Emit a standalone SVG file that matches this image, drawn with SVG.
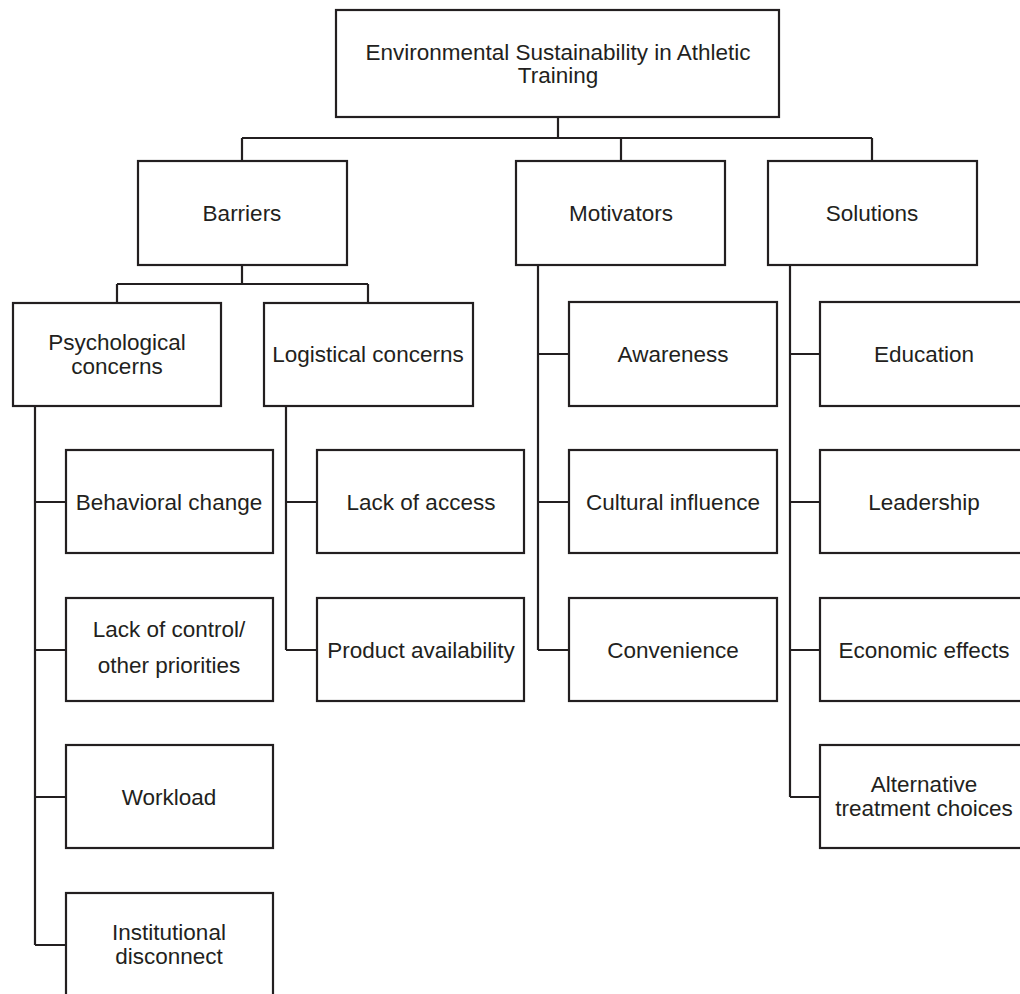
<svg xmlns="http://www.w3.org/2000/svg" width="1020" height="994" viewBox="0 0 1020 994">
<style>
rect{fill:#fff;stroke:#231f20;stroke-width:2.2}
text{font-family:"Liberation Sans",Arial,sans-serif;font-size:22.5px;fill:#231f20;text-anchor:middle}
#connectors path{fill:none;stroke:#231f20;stroke-width:2.2}
</style>
<rect x="0" y="0" width="1020" height="994" style="stroke:none"/>
<g id="connectors">
<path d="M558 117V138M242 138H872M242 138V161M621 138V161M872 138V161"/>
<path d="M242 265V284M117 284H368M117 284V303M368 284V303"/>
<path d="M35 406V945M35 502H66M35 650H66M35 797H66M35 945H66"/>
<path d="M286 406V650M286 502H317M286 650H317"/>
<path d="M538 265V650M538 354H569M538 502H569M538 650H569"/>
<path d="M790 265V797M790 354H820M790 502H820M790 650H820M790 797H820"/>
</g>
<g id="root"><rect x="336" y="10" width="443" height="107"/><text x="558" y="60">Environmental Sustainability in Athletic</text><text x="558" y="83">Training</text></g>
<g id="barriers"><rect x="138" y="161" width="209" height="104"/><text x="242" y="221">Barriers</text></g>
<g id="motivators"><rect x="516" y="161" width="209" height="104"/><text x="621" y="221">Motivators</text></g>
<g id="solutions"><rect x="768" y="161" width="209" height="104"/><text x="872" y="221">Solutions</text></g>
<g id="psychological"><rect x="13" y="303" width="208" height="103"/><text x="117" y="350">Psychological</text><text x="117" y="374">concerns</text></g>
<g id="logistical"><rect x="264" y="303" width="209" height="103"/><text x="368" y="362">Logistical concerns</text></g>
<g id="behavioral"><rect x="66" y="450" width="207" height="103"/><text x="169" y="510">Behavioral change</text></g>
<g id="lackcontrol"><rect x="66" y="598" width="207" height="103"/><text x="169" y="637">Lack of control/</text><text x="169" y="673">other priorities</text></g>
<g id="workload"><rect x="66" y="745" width="207" height="103"/><text x="169" y="805">Workload</text></g>
<g id="institutional"><rect x="66" y="893" width="207" height="110"/><text x="169" y="940">Institutional</text><text x="169" y="964">disconnect</text></g>
<g id="lackaccess"><rect x="317" y="450" width="207" height="103"/><text x="421" y="510">Lack of access</text></g>
<g id="product"><rect x="317" y="598" width="207" height="103"/><text x="421" y="658">Product availability</text></g>
<g id="awareness"><rect x="569" y="302" width="208" height="104"/><text x="673" y="362">Awareness</text></g>
<g id="cultural"><rect x="569" y="450" width="208" height="103"/><text x="673" y="510">Cultural influence</text></g>
<g id="convenience"><rect x="569" y="598" width="208" height="103"/><text x="673" y="658">Convenience</text></g>
<g id="education"><rect x="820" y="302" width="208" height="104"/><text x="924" y="362">Education</text></g>
<g id="leadership"><rect x="820" y="450" width="208" height="103"/><text x="924" y="510">Leadership</text></g>
<g id="economic"><rect x="820" y="598" width="208" height="103"/><text x="924" y="658">Economic effects</text></g>
<g id="alternative"><rect x="820" y="745" width="208" height="103"/><text x="924" y="792">Alternative</text><text x="924" y="816">treatment choices</text></g>
</svg>
